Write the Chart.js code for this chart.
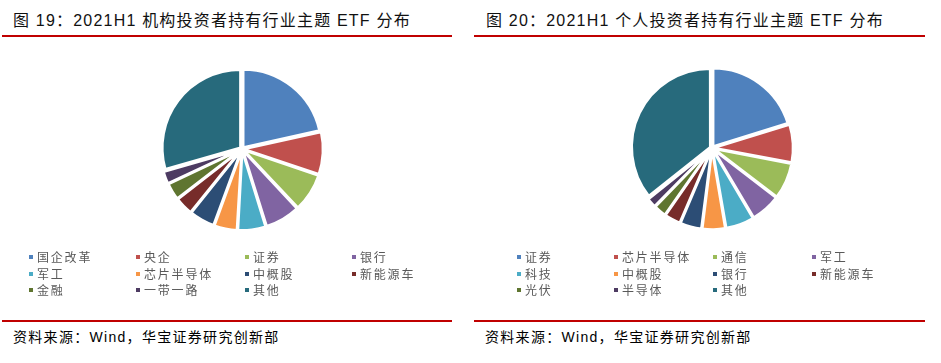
<!DOCTYPE html>
<html><head><meta charset="utf-8">
<script src="https://cdn.jsdelivr.net/npm/chart.js@4/dist/chart.umd.min.js"></script>
<style>
html,body{margin:0;padding:0;background:#fff;}
body{width:941px;height:363px;position:relative;overflow:hidden;font-family:"Liberation Sans","Noto Sans CJK SC",sans-serif;}
.title{position:absolute;top:10px;font-size:16px;letter-spacing:1.2px;color:#111;white-space:nowrap;line-height:22px;}
.rule{position:absolute;height:2px;background:#c00000;}
.src{position:absolute;top:327px;font-size:14px;letter-spacing:1.3px;color:#000;white-space:nowrap;line-height:20px;}
.pie{position:absolute;width:200px;height:200px;}
.legend{position:absolute;font-size:12px;letter-spacing:1.8px;color:#595959;font-family:"Noto Sans CJK SC",sans-serif;}
.li{position:absolute;white-space:nowrap;line-height:16px;}
.li i{position:absolute;left:0;top:6px;width:4px;height:4px;}
.li span{position:absolute;left:8px;top:0;}
</style></head><body>
<div class="title" style="left:13px">图 19：2021H1 机构投资者持有行业主题 ETF 分布</div>
<div class="title" style="left:486px">图 20：2021H1 个人投资者持有行业主题 ETF 分布</div>
<div class="rule" style="left:2px;width:450px;top:35px"></div>
<div class="rule" style="left:474px;width:451px;top:35px"></div>
<div class="pie" style="left:142px;top:49px"><canvas id="c1"></canvas></div>
<div class="pie" style="left:612px;top:48px"><canvas id="c2"></canvas></div>
<div class="legend" id="lg1" style="left:29px;top:249px"></div>
<div class="legend" id="lg2" style="left:517px;top:249px"></div>
<div class="rule" style="left:2px;width:450px;top:320px"></div>
<div class="rule" style="left:474px;width:451px;top:320px"></div>
<div class="src" style="left:13px">资料来源：Wind，华宝证券研究创新部</div>
<div class="src" style="left:485px">资料来源：Wind，华宝证券研究创新部</div>
<script>
// Data (percent shares)
const instLabels = ["国企改革","央企","证券","银行","军工","芯片半导体","中概股","新能源车","金融","一带一路","其他"];
const instValues = [21.5, 8.7, 7.8, 7.2, 5.7, 4.7, 5.2, 3.7, 3.5, 2.6, 29.4];
const indLabels = ["证券","芯片半导体","通信","军工","科技","中概股","银行","新能源车","光伏","半导体","其他"];
const indValues = [20.2, 7.8, 7.4, 6.1, 5.8, 4.7, 4.4, 3.3, 2.6, 2.0, 35.7];
const palette = ["#4F81BD","#C0504D","#9BBB59","#8064A2","#4BACC6","#F79646","#2C4D75","#772C2A","#5F7530","#4D3B62","#276A7C"];

function makePie(id, labels, values, legendId, colX){
  const chart = new Chart(document.getElementById(id), {
    type: 'pie',
    data: { labels: labels, datasets: [{ data: values, backgroundColor: palette, borderColor: '#fff', borderWidth: 2.5, offset: 8, radius: 78 }] },
    options: {
      responsive: true, maintainAspectRatio: false, animation: false,
      layout: { padding: 0 },
      plugins: { legend: { display: false }, tooltip: { enabled: false } }
    }
  });
  const items = Chart.overrides.pie.plugins.legend.labels.generateLabels(chart);
  const lg = document.getElementById(legendId);
  items.forEach((it, i) => {
    const d = document.createElement('div');
    d.className = 'li';
    d.style.left = colX[i % 4] + 'px';
    d.style.top = (Math.floor(i / 4) * 16.5) + 'px';
    d.innerHTML = '<i style="background:' + it.fillStyle + '"></i><span>' + it.text + '</span>';
    lg.appendChild(d);
  });
}
makePie('c1', instLabels, instValues, 'lg1', [0, 107, 216, 323]);
makePie('c2', indLabels, indValues, 'lg2', [0, 97, 196, 295]);
</script>
</body></html>
